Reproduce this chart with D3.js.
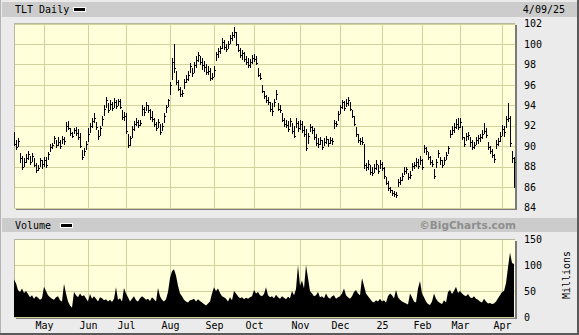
<!DOCTYPE html>
<html lang="en">
<head>
    <meta charset="UTF-8">
    <title>TLT Daily</title>
    <script src="https://d3js.org/d3.v7.min.js"></script>
    <style>
        body { margin: 0; background: #ebebeb; }
        svg { display: block; }
        .lbl { font-family: 'DejaVu Sans Mono', monospace; font-size: 10px; fill: #000; }
        .axis text { font-family: 'DejaVu Sans Mono', monospace; font-size: 10px; fill: #000; }
    </style>
</head>
<body>
    <div id="chart"></div>

    <script>
        // market holidays inside the window (no bars on these days)
        const holidays = ['2024-05-27', '2024-06-19', '2024-07-04', '2024-09-02', '2024-11-28',
            '2024-12-25', '2025-01-01', '2025-01-09', '2025-01-20', '2025-02-17'];
        const monthLabels = ['May', 'Jun', 'Jul', 'Aug', 'Sep', 'Oct', 'Nov', 'Dec', '25', 'Feb', 'Mar', 'Apr'];
        const priceTicks = [84, 86, 88, 90, 92, 94, 96, 98, 100, 102];
        const volTicks = [0, 50, 100, 150];

        // daily bars, 10 Apr 2024 .. 9 Apr 2025 (one row per month)
        const high = [
            91.4, 90.6, 90.8, 89.3, 89.0, 88.8, 89.2, 89.5, 89.0, 89.3, 88.8, 88.4, 88.2, 88.8, 88.6,
            88.9, 88.9, 89.4, 90.2, 90.3, 91.0, 90.6, 90.9, 90.6, 91.0, 90.9, 92.4, 92.5, 91.8, 91.4, 91.8, 91.9, 91.7, 91.3, 89.6, 89.8, 90.5,
            91.8, 92.3, 92.8, 93.2, 92.4, 91.6, 92.0, 93.0, 94.0, 94.8, 94.2, 94.5, 94.3, 94.7, 94.5, 94.6, 94.6, 93.5, 93.3,
            93.2, 91.2, 91.0, 92.0, 92.5, 92.8, 92.6, 92.6, 94.0, 93.8, 94.3, 94.0, 93.6, 93.4, 92.8, 92.4, 92.7, 92.2, 92.3, 93.2, 94.0, 94.6,
            96.3, 98.6, 100.0, 97.4, 96.5, 95.8, 95.5, 96.6, 97.0, 97.4, 98.1, 97.6, 98.2, 98.8, 99.2, 98.8, 98.6, 98.3, 98.0, 97.8, 97.6, 97.2,
            97.8, 99.2, 99.6, 99.8, 100.6, 100.4, 100.0, 100.3, 100.9, 101.2, 101.7, 101.2, 100.0, 99.6, 99.4, 99.2, 98.8, 98.6, 98.5, 98.9,
            99.0, 98.8, 97.6, 97.2, 96.0, 95.4, 95.0, 94.8, 94.3, 94.2, 94.6, 95.5, 94.2, 94.0, 93.2, 92.8, 92.6, 92.5, 92.8, 92.3, 92.0, 92.8, 92.5,
            92.6, 92.5, 92.0, 91.7, 91.3, 92.2, 92.0, 91.8, 91.2, 90.8, 90.9, 90.6, 90.8, 91.0, 90.7, 90.9, 90.8, 92.6, 92.5, 93.4,
            94.0, 94.5, 94.4, 94.6, 94.8, 94.3, 93.5, 93.0, 91.9, 91.2, 90.8, 90.9, 90.2, 88.4, 88.6, 88.2, 88.0, 88.3, 88.6, 88.2, 88.6,
            88.5, 88.0, 87.0, 86.6, 86.0, 85.7, 85.6, 85.5, 86.8, 87.0, 87.4, 88.0, 88.0, 87.4, 87.6, 88.4, 88.5, 88.8, 88.7, 89.0,
            88.7, 90.1, 89.9, 89.4, 89.0, 88.6, 87.8, 88.7, 89.6, 88.9, 88.6, 88.9, 89.4, 90.0, 91.6, 92.0, 92.3, 92.7, 92.8,
            92.8, 92.0, 90.9, 91.3, 91.4, 90.9, 90.6, 90.4, 90.9, 91.1, 91.2, 91.6, 92.3, 91.8, 90.4, 90.0, 89.7, 89.2, 90.6, 90.8, 91.4,
            92.1, 92.0, 93.0, 94.2, 93.0, 89.5, 88.9
        ];
        const low = [
            90.0, 89.6, 89.9, 88.4, 87.7, 88.0, 88.4, 88.6, 88.2, 88.5, 88.0, 87.4, 87.6, 88.0, 87.8,
            88.0, 87.9, 88.6, 89.4, 89.7, 90.2, 89.8, 90.0, 89.7, 90.2, 90.1, 91.4, 91.6, 91.0, 90.8, 91.2, 91.0, 90.6, 89.8, 88.6, 89.0, 89.6,
            90.4, 91.3, 91.8, 92.3, 91.6, 90.6, 91.0, 92.0, 93.0, 93.7, 93.2, 93.5, 93.4, 93.7, 93.6, 93.9, 93.6, 92.6, 92.5,
            91.2, 89.8, 90.0, 90.8, 91.5, 92.0, 91.8, 92.0, 93.0, 93.0, 93.4, 93.2, 92.6, 92.4, 91.9, 91.5, 91.8, 91.1, 91.5, 92.3, 93.2, 93.8,
            95.0, 96.5, 97.2, 96.0, 95.4, 94.8, 94.8, 95.6, 96.2, 96.4, 97.2, 96.8, 97.2, 97.6, 98.2, 97.9, 97.5, 97.3, 97.0, 97.0, 96.4, 96.5,
            96.8, 98.3, 98.6, 99.0, 99.5, 99.4, 99.2, 99.5, 100.0, 100.3, 100.6, 99.8, 99.2, 98.6, 98.4, 98.2, 97.9, 97.6, 97.6, 98.0,
            98.2, 97.9, 96.8, 96.5, 95.2, 94.6, 94.2, 94.0, 93.3, 93.0, 93.8, 94.5, 93.4, 93.2, 92.4, 91.9, 91.8, 91.4, 91.9, 91.2, 90.8, 91.8, 91.4,
            91.6, 91.3, 90.9, 89.5, 90.2, 91.4, 91.2, 90.6, 90.0, 89.8, 90.1, 89.6, 90.0, 90.2, 89.9, 90.2, 90.1, 91.7, 91.9, 92.5,
            93.1, 93.6, 93.4, 93.8, 93.9, 93.4, 92.8, 92.0, 90.9, 90.3, 90.1, 90.1, 87.8, 87.6, 87.7, 87.2, 87.1, 87.4, 87.7, 87.3, 87.8,
            87.6, 86.8, 86.2, 85.6, 85.4, 85.1, 85.0, 84.9, 86.0, 86.2, 86.6, 87.2, 87.3, 86.7, 86.8, 87.6, 87.8, 88.0, 87.8, 88.2,
            87.7, 89.3, 89.1, 88.6, 88.2, 88.0, 86.8, 87.9, 88.8, 88.2, 87.9, 88.2, 88.6, 89.2, 90.8, 91.1, 91.3, 91.7, 91.6,
            91.8, 90.6, 89.9, 90.5, 90.6, 89.9, 89.6, 89.7, 90.1, 90.2, 90.4, 90.7, 91.2, 90.8, 89.6, 89.2, 88.8, 88.4, 89.7, 90.0, 90.4,
            91.0, 90.9, 91.8, 92.4, 89.9, 88.4, 85.9
        ];
        const close = [
            90.2, 89.9, 90.5, 88.8, 88.0, 88.5, 88.8, 89.2, 88.5, 89.0, 88.2, 87.7, 87.9, 88.6, 88.3,
            88.6, 88.2, 89.2, 89.9, 90.1, 90.8, 90.1, 90.4, 90.0, 90.7, 90.5, 92.0, 91.8, 91.3, 91.0, 91.6, 91.3, 90.9, 90.0, 88.9, 89.5, 90.2,
            91.2, 92.0, 92.5, 92.8, 91.9, 91.0, 91.8, 92.7, 93.6, 94.5, 93.5, 94.1, 93.7, 94.3, 93.9, 94.4, 93.8, 92.9, 93.0,
            91.5, 90.1, 90.8, 91.7, 92.2, 92.4, 92.1, 92.3, 93.6, 93.3, 94.0, 93.5, 92.9, 92.7, 92.2, 91.8, 92.4, 91.4, 92.0, 93.0, 93.8, 94.5,
            96.0, 98.2, 97.6, 96.3, 95.6, 95.1, 95.2, 96.3, 96.6, 97.0, 97.8, 97.2, 97.9, 98.4, 98.9, 98.2, 97.9, 97.7, 97.3, 97.4, 96.7, 96.8,
            97.5, 99.0, 99.3, 99.6, 100.2, 99.7, 99.5, 100.0, 100.6, 100.9, 101.2, 100.0, 99.4, 98.9, 99.1, 98.5, 98.2, 97.9, 98.2, 98.6,
            98.5, 98.1, 97.0, 96.7, 95.4, 94.9, 94.5, 94.3, 93.6, 93.4, 94.3, 95.1, 93.6, 93.5, 92.6, 92.2, 92.1, 91.7, 92.5, 91.5, 91.0, 92.3, 91.8,
            92.2, 91.6, 91.2, 89.8, 91.0, 91.9, 91.6, 90.9, 90.3, 90.2, 90.6, 89.9, 90.4, 90.7, 90.3, 90.6, 90.5, 92.3, 92.2, 93.1,
            93.8, 94.3, 93.7, 94.2, 94.5, 93.6, 93.0, 92.2, 91.2, 90.6, 90.5, 90.4, 88.2, 88.0, 88.3, 87.5, 87.4, 87.9, 88.3, 87.6, 88.3,
            87.9, 87.1, 86.4, 85.9, 85.7, 85.4, 85.3, 85.2, 86.5, 86.7, 87.1, 87.6, 87.8, 87.0, 87.2, 88.1, 88.2, 88.5, 88.1, 88.6,
            88.0, 89.8, 89.5, 88.9, 88.5, 88.3, 87.1, 88.5, 89.3, 88.6, 88.2, 88.6, 89.1, 89.8, 91.2, 91.6, 91.9, 92.2, 91.9,
            92.4, 90.9, 90.2, 91.0, 91.1, 90.4, 89.9, 90.1, 90.6, 90.8, 90.9, 91.2, 91.5, 91.1, 89.9, 89.5, 89.1, 88.7, 90.2, 90.5, 91.0,
            91.7, 91.4, 92.7, 92.8, 90.3, 88.8, 88.5
        ];
        // millions of shares
        const volume = [
            72, 65, 52, 48, 55, 46, 50, 44, 38, 42, 35, 40, 37, 33, 36,
            58, 50, 42, 38, 35, 33, 38, 40, 32, 30, 64, 45, 30, 22, 18, 48, 42, 38, 45, 40, 42, 36,
            30, 44, 35, 40, 35, 30, 38, 36, 32, 34, 30, 33, 29, 35, 57, 33, 36, 30, 56,
            45, 38, 30, 35, 40, 32, 30, 36, 40, 37, 33, 35, 31, 38, 34, 30, 56, 40, 33, 30, 34, 48,
            75, 88, 92, 80, 60, 45, 40, 33, 30, 28, 32, 33, 35, 30, 34, 31, 28, 25, 22, 26, 30, 45,
            57, 50, 55, 46, 40, 38, 35, 30, 38, 32, 50, 45, 40, 36, 38, 34, 37, 35, 38, 40,
            52, 45, 48, 42, 40, 44, 57, 42, 38, 40, 36, 43, 38, 35, 40, 37, 34, 39, 36, 50, 42, 54, 100,
            60, 70, 55, 100, 75, 50, 45, 40, 42, 48, 38, 40, 36, 45, 38, 35, 40, 42, 35, 38,
            40, 45, 55, 42, 38, 35, 40, 48, 52, 45, 42, 75, 60, 45, 40, 35, 30, 28, 32, 30, 35,
            30, 32, 28, 40, 45, 42, 36, 52, 38, 33, 30, 28, 26, 24, 45, 38, 30, 28, 55, 69,
            45, 38, 30, 25, 23, 30, 45, 35, 30, 27, 25, 32, 28, 48, 52, 44, 50, 58, 46,
            50, 45, 42, 40, 44, 38, 36, 40, 35, 33, 30, 28, 35, 30, 26, 27, 25, 26, 30, 36, 42,
            48, 50, 65, 95, 124, 104, 102
        ];

        const W = 579, H = 335;
        const colors = {
            bg: '#ebebeb',
            bar: '#cccccc',
            grid: '#d2d29c',
            shadow: '#7a7a7a'
        };

        // trading calendar
        function tradingDays(start, end) {
            const days = [];
            const fmt = d3.utcFormat('%Y-%m-%d');
            for (let d = new Date(start); d <= end; d = d3.utcDay.offset(d, 1)) {
                const wd = d.getUTCDay();
                if (wd === 0 || wd === 6) continue;
                if (holidays.includes(fmt(d))) continue;
                days.push(new Date(d));
            }
            return days;
        }
        const dates = tradingDays(Date.UTC(2024, 3, 10), new Date(Date.UTC(2025, 3, 9)));
        const monthStarts = dates.map((d, i) => i).filter(i => i > 0 && dates[i].getUTCMonth() !== dates[i - 1].getUTCMonth());

        const svg = d3.select('#chart').append('svg')
            .attr('width', W)
            .attr('height', H)
            .attr('shape-rendering', 'crispEdges');

        const defs = svg.append('defs');
        const pat = defs.append('pattern')
            .attr('id', 'dots')
            .attr('width', 2).attr('height', 2)
            .attr('patternUnits', 'userSpaceOnUse');
        pat.append('rect').attr('width', 2).attr('height', 2).attr('fill', '#ffffc6');
        pat.append('rect').attr('width', 1).attr('height', 1).attr('fill', '#fffff0');
        pat.append('rect').attr('x', 1).attr('y', 1).attr('width', 1).attr('height', 1).attr('fill', '#fffff0');

        // frame
        svg.append('rect').attr('width', W).attr('height', H).attr('fill', colors.bg);
        svg.append('rect').attr('x', 0).attr('y', 0).attr('width', 1).attr('height', H).attr('fill', '#b4b4b4');
        svg.append('rect').attr('x', W - 2).attr('y', 0).attr('width', 2).attr('height', H).attr('fill', '#5a5a5a');
        svg.append('rect').attr('x', 0).attr('y', H - 2).attr('width', W).attr('height', 2).attr('fill', '#5a5a5a');

        // header bars
        svg.append('rect').attr('x', 2).attr('y', 2).attr('width', W - 4).attr('height', 15).attr('fill', colors.bar);
        svg.append('rect').attr('x', 2).attr('y', 218).attr('width', W - 4).attr('height', 14).attr('fill', colors.bar);

        const x = d3.scaleLinear().domain([0, dates.length - 1]).range([14, 14 + 2 * (dates.length - 1)]);
        const yP = d3.scaleLinear().domain([84, 102]).range([207.5, 23.5]);
        const yV = d3.scaleLinear().domain([0, 150]).range([317, 239]);

        const plotL = 14, plotR = 515;

        function panel(top, bottom, ticks, yScale) {
            // shadow
            svg.append('rect').attr('x', plotR).attr('y', top + 2).attr('width', 2).attr('height', bottom - top).attr('fill', colors.shadow);
            svg.append('rect').attr('x', plotL + 2).attr('y', bottom).attr('width', plotR - plotL).attr('height', 2).attr('fill', colors.shadow);
            svg.append('rect').attr('x', plotL).attr('y', top).attr('width', plotR - plotL).attr('height', bottom - top)
                .attr('fill', 'url(#dots)');
            const g = svg.append('g');
            g.selectAll('.hg').data(ticks).join('rect')
                .attr('x', plotL).attr('width', plotR - plotL)
                .attr('y', d => Math.round(yScale(d))).attr('height', 1)
                .attr('fill', colors.grid);
            g.selectAll('.vg').data(monthStarts).join('rect')
                .attr('x', d => Math.round(x(d))).attr('width', 1)
                .attr('y', top).attr('height', bottom - top)
                .attr('fill', colors.grid);
            svg.append('rect').attr('x', plotL).attr('y', top).attr('width', plotR - plotL).attr('height', 1).attr('fill', '#b8b8a0');
            svg.append('rect').attr('x', plotL).attr('y', top).attr('width', 1).attr('height', bottom - top).attr('fill', '#b8b8a0');
        }

        panel(23, 208, priceTicks, yP);
        panel(239, 317, volTicks, yV);

        // price bars
        const bars = svg.append('g');
        const idx = d3.range(dates.length);
        bars.selectAll('.hl').data(idx).join('rect')
            .attr('x', i => Math.round(x(i)))
            .attr('y', i => Math.round(yP(high[i])))
            .attr('width', 1)
            .attr('height', i => Math.max(1, Math.round(yP(low[i])) - Math.round(yP(high[i]))))
            .attr('fill', '#000');
        bars.selectAll('.cl').data(idx).join('rect')
            .attr('x', i => Math.round(x(i)) + 1)
            .attr('y', i => Math.round(yP(close[i])))
            .attr('width', 1).attr('height', 1)
            .attr('fill', '#000');

        // volume
        const area = d3.area()
            .x(i => x(i))
            .y0(yV(0))
            .y1(i => yV(volume[i]));
        svg.append('path')
            .datum(idx)
            .attr('d', area)
            .attr('fill', '#000')
            .attr('shape-rendering', 'auto');

        // axes
        const priceAxis = svg.append('g').attr('class', 'axis')
            .attr('transform', `translate(${plotR},0)`)
            .call(d3.axisRight(yP).tickValues(priceTicks).tickSize(0).tickPadding(9));
        priceAxis.select('.domain').remove();

        const volAxis = svg.append('g').attr('class', 'axis')
            .attr('transform', `translate(${plotR},0)`)
            .call(d3.axisRight(yV).tickValues(volTicks).tickSize(0).tickPadding(9));
        volAxis.select('.domain').remove();

        const monthAxis = svg.append('g').attr('class', 'axis')
            .attr('transform', 'translate(0,317)')
            .call(d3.axisBottom(x).tickValues(monthStarts).tickSize(0).tickPadding(5)
                .tickFormat((d, i) => monthLabels[i]));
        monthAxis.select('.domain').remove();

        // titles
        svg.append('text').attr('class', 'lbl').attr('x', 15).attr('y', 13).text('TLT Daily');
        svg.append('rect').attr('x', 73).attr('y', 7).attr('width', 13).attr('height', 5).attr('fill', '#fff');
        svg.append('rect').attr('x', 74).attr('y', 8).attr('width', 11).attr('height', 3).attr('fill', '#000');
        svg.append('text').attr('class', 'lbl').attr('x', 565).attr('y', 13).attr('text-anchor', 'end').text('4/09/25');

        svg.append('text').attr('class', 'lbl').attr('x', 15).attr('y', 229).text('Volume');
        svg.append('rect').attr('x', 60).attr('y', 223).attr('width', 13).attr('height', 5).attr('fill', '#fff');
        svg.append('rect').attr('x', 61).attr('y', 224).attr('width', 11).attr('height', 3).attr('fill', '#000');
        svg.append('text')
            .attr('x', 516).attr('y', 229)
            .attr('text-anchor', 'end')
            .style('font-family', "'DejaVu Sans', sans-serif")
            .style('font-size', '10.5px')
            .style('font-weight', 'bold')
            .style('fill', '#8e8e8e')
            .text('©BigCharts.com');

        svg.append('text').attr('class', 'lbl')
            .attr('transform', 'translate(570,275) rotate(-90)')
            .attr('text-anchor', 'middle')
            .text('Millions');
    </script>
</body>
</html>
